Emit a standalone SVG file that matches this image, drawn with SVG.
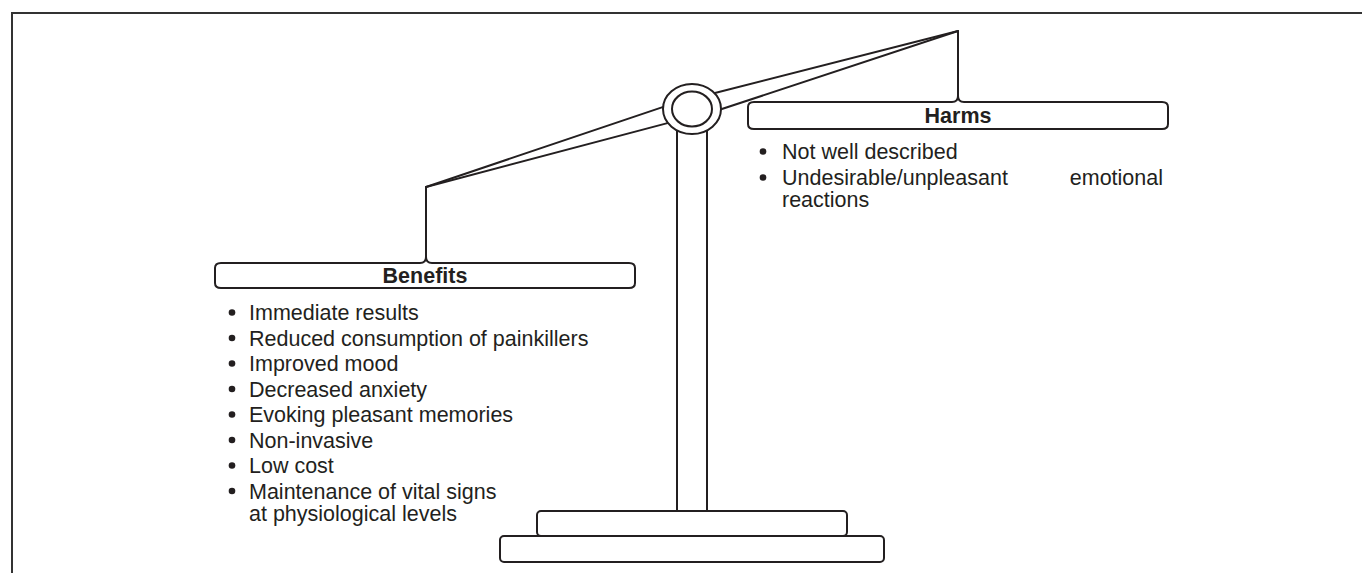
<svg xmlns="http://www.w3.org/2000/svg" width="1362" height="573" viewBox="0 0 1362 573">
<style>
.ln{fill:none;stroke:#231f20;stroke-width:2;stroke-linejoin:round;stroke-linecap:round}
.wf{fill:#fff;stroke:#231f20;stroke-width:2}
.t{font-family:"Liberation Sans",Arial,Helvetica,sans-serif;font-size:21.5px;fill:#231f20}
.b{font-weight:bold;text-anchor:middle}
.dot{fill:#231f20}
</style>
<rect width="1362" height="573" fill="#fff"/>
<g id="frame"><path d="M12,573 V13 H1362" fill="none" stroke="#333" stroke-width="2"/></g>
<g id="connectors">
  <line class="ln" x1="426" y1="187" x2="670" y2="104.6"/>
  <line class="ln" x1="426" y1="187" x2="675" y2="121.1"/>
  <line class="ln" x1="958" y1="31" x2="710" y2="94.3"/>
  <line class="ln" x1="958" y1="31" x2="715" y2="111.3"/>
  <line class="ln" x1="677" y1="120" x2="677" y2="511"/>
  <line class="ln" x1="707" y1="120" x2="707" y2="511"/>
  <path class="ln" d="M426,187 V257"/>
  <path class="ln" d="M958,31 V96"/>
</g>
<g id="pivot">
  <ellipse class="wf" cx="692" cy="109" rx="29" ry="25"/>
  <ellipse class="wf" cx="692" cy="109" rx="20" ry="17.5"/>
</g>
<g id="base">
  <rect class="wf" x="537" y="511" width="310" height="25" rx="4"/>
  <rect class="wf" x="500" y="536" width="384" height="26" rx="4"/>
</g>
<g id="benefits">
  <path class="ln" d="M420,263 H221 Q215,263 215,268 V283 Q215,288 221,288 H629 Q635,288 635,283 V268 Q635,263 629,263 H432 Q426,263 426,257 Q426,263 420,263 Z" fill="#fff"/>
  <text class="t b" x="425" y="283">Benefits</text>
  <g class="dot">
    <circle cx="232" cy="312.5" r="3.3"/>
    <circle cx="232" cy="338" r="3.3"/>
    <circle cx="232" cy="363.5" r="3.3"/>
    <circle cx="232" cy="389" r="3.3"/>
    <circle cx="232" cy="414.5" r="3.3"/>
    <circle cx="232" cy="440" r="3.3"/>
    <circle cx="232" cy="465.5" r="3.3"/>
    <circle cx="232" cy="491" r="3.3"/>
  </g>
  <text class="t" x="249" y="320">Immediate results</text>
  <text class="t" x="249" y="345.5">Reduced consumption of painkillers</text>
  <text class="t" x="249" y="371">Improved mood</text>
  <text class="t" x="249" y="396.5">Decreased anxiety</text>
  <text class="t" x="249" y="422">Evoking pleasant memories</text>
  <text class="t" x="249" y="447.5">Non-invasive</text>
  <text class="t" x="249" y="473">Low cost</text>
  <text class="t" x="249" y="498.5">Maintenance of vital signs</text>
  <text class="t" x="249" y="520.5">at physiological levels</text>
</g>
<g id="harms">
  <path class="ln" d="M952,102 H754 Q748,102 748,107 V124 Q748,129 754,129 H1162 Q1168,129 1168,124 V107 Q1168,102 1162,102 H964 Q958,102 958,96 Q958,102 952,102 Z" fill="#fff"/>
  <text class="t b" x="958" y="123">Harms</text>
  <g class="dot">
    <circle cx="763" cy="151.5" r="3.3"/>
    <circle cx="763" cy="177.5" r="3.3"/>
  </g>
  <text class="t" x="782" y="159">Not well described</text>
  <text class="t" x="782" y="185">Undesirable/unpleasant</text>
  <text class="t" x="1163" y="185" text-anchor="end">emotional</text>
  <text class="t" x="782" y="207">reactions</text>
</g>
</svg>
